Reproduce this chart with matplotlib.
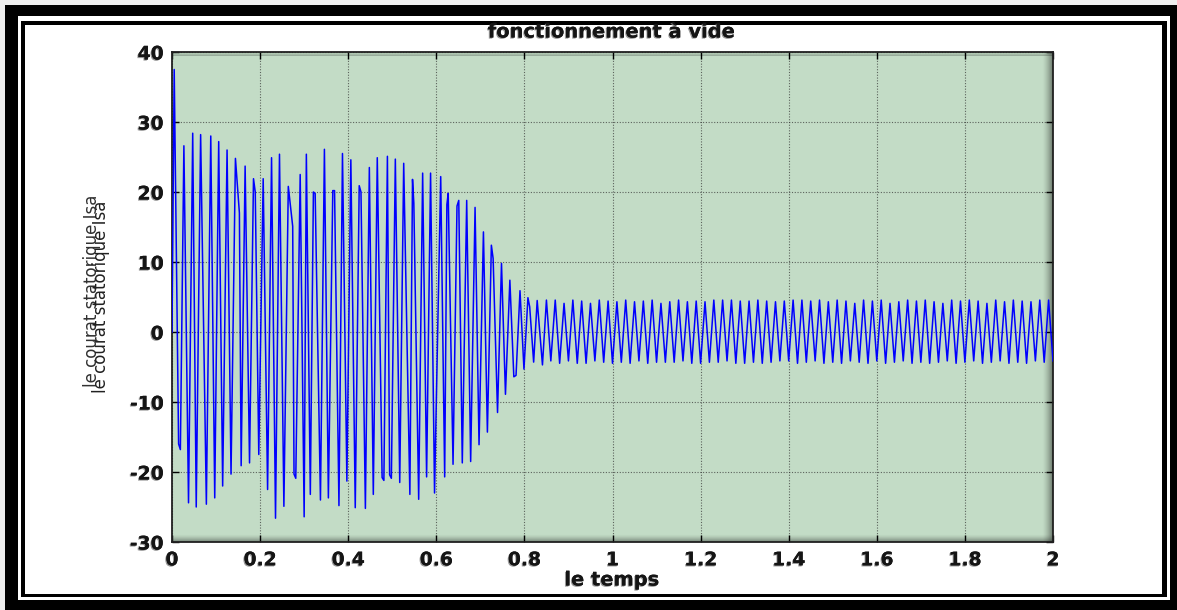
import matplotlib
matplotlib.use('Agg')
import matplotlib.pyplot as plt
import numpy as np
from matplotlib.patches import Rectangle
import matplotlib.patheffects as pe

# ---------------- data ----------------
t_transient = [0.0, 0.005, 0.015, 0.019, 0.027, 0.0375, 0.047, 0.055, 0.065, 0.078,
               0.088, 0.097, 0.106, 0.115, 0.125, 0.134, 0.144, 0.153, 0.157, 0.166,
               0.176, 0.185, 0.189, 0.197, 0.207, 0.217, 0.226, 0.235, 0.244, 0.254,
               0.264, 0.274, 0.277, 0.281, 0.291, 0.300, 0.305, 0.314, 0.321, 0.325,
               0.337, 0.346, 0.355, 0.365, 0.369, 0.379, 0.387, 0.397, 0.406, 0.416,
               0.425, 0.429, 0.439, 0.448, 0.457, 0.466, 0.477, 0.481, 0.489, 0.494,
               0.498, 0.507, 0.517, 0.526, 0.540, 0.546, 0.549, 0.560, 0.569, 0.578,
               0.587, 0.596, 0.610, 0.619, 0.624, 0.627, 0.638, 0.647, 0.651, 0.659,
               0.669, 0.678, 0.688, 0.697, 0.707, 0.716, 0.725, 0.729, 0.739, 0.748,
               0.757, 0.767, 0.776, 0.781, 0.790, 0.799, 0.808, 0.812, 0.821, 0.829,
               0.841]
i_transient = [0.0, 37.5, -16.0, -16.8, 26.6, -24.4, 28.4, -25.0, 28.2, -24.6,
               28.0, -23.7, 27.2, -22.0, 26.0, -20.3, 24.8, 17.0, -19.1, 23.7,
               -18.7, 21.9, 20.0, -17.5, 21.9, -22.5, 24.9, -26.6, 25.4, -24.9,
               20.8, 15.1, -20.3, -20.9, 22.5, -26.4, 25.4, -23.2, 20.0, 19.8,
               -24.0, 26.1, -23.7, 20.2, 20.2, -24.8, 25.5, -21.3, 24.6, -25.1,
               20.9, 20.0, -25.2, 23.5, -23.2, 24.9, -20.8, -21.2, 25.1, -20.4,
               -20.9, 24.7, -21.5, 24.1, -23.2, 21.8, 18.4, -23.9, 22.7, -20.7,
               22.7, -23.0, 22.2, -20.7, 18.2, 19.8, -18.9, 18.0, 18.8, -18.7,
               18.8, -18.5, 17.8, -16.1, 14.3, -14.3, 12.4, 10.5, -11.5, 9.8,
               -8.9, 7.4, -6.4, -6.2, 5.9, -5.3, 4.9, 3.6, -4.3, 4.5,
               -4.7]

t_steady = [0.85, 0.86, 0.87, 0.88, 0.89, 0.90, 0.91, 0.92, 0.93, 0.94,
            0.95, 0.96, 0.97, 0.98, 0.99, 1.00, 1.01, 1.02, 1.03, 1.04,
            1.05, 1.06, 1.07, 1.08, 1.09, 1.10, 1.11, 1.12, 1.13, 1.14,
            1.15, 1.16, 1.17, 1.18, 1.19, 1.20, 1.21, 1.22, 1.23, 1.24,
            1.25, 1.26, 1.27, 1.28, 1.29, 1.30, 1.31, 1.32, 1.33, 1.34,
            1.35, 1.36, 1.37, 1.38, 1.39, 1.40, 1.41, 1.42, 1.43, 1.44,
            1.45, 1.46, 1.47, 1.48, 1.49, 1.50, 1.51, 1.52, 1.53, 1.54,
            1.55, 1.56, 1.57, 1.58, 1.59, 1.60, 1.61, 1.62, 1.63, 1.64,
            1.65, 1.66, 1.67, 1.68, 1.69, 1.70, 1.71, 1.72, 1.73, 1.74,
            1.75, 1.76, 1.77, 1.78, 1.79, 1.80, 1.81, 1.82, 1.83, 1.84,
            1.85, 1.86, 1.87, 1.88, 1.89, 1.90, 1.91, 1.92, 1.93, 1.94,
            1.95, 1.96, 1.97, 1.98, 1.99, 2.00]
i_steady = [4.56, -4.13, 4.56, -4.47, 4.09, -4.13, 4.56, -4.47, 4.42, -4.47,
            4.09, -4.13, 4.56, -4.32, 4.42, -4.47, 4.32, -4.32, 4.56, -4.47,
            4.32, -4.13, 4.42, -4.47, 4.56, -4.32, 4.09, -4.32, 4.32, -4.32,
            4.56, -4.13, 4.32, -4.47, 4.42, -4.47, 4.32, -4.32, 4.56, -4.32,
            4.56, -4.13, 4.56, -4.47, 4.42, -4.47, 4.42, -4.32, 4.56, -4.47,
            4.42, -4.32, 4.32, -4.13, 4.42, -4.13, 4.56, -4.47, 4.56, -4.32,
            4.42, -4.13, 4.56, -4.47, 4.32, -4.32, 4.56, -4.47, 4.42, -4.13,
            4.09, -4.32, 4.56, -4.47, 4.42, -4.13, 4.56, -4.47, 4.09, -4.32,
            4.32, -4.13, 4.56, -4.47, 4.42, -4.32, 4.56, -4.47, 4.32, -4.32,
            4.09, -4.13, 4.56, -4.47, 4.42, -4.32, 4.56, -4.13, 4.42, -4.47,
            4.09, -4.32, 4.56, -4.13, 4.32, -4.47, 4.56, -4.32, 4.42, -4.47,
            4.32, -4.13, 4.56, -4.32, 4.56, -4.13]

x_ticks = [0, 0.2, 0.4, 0.6, 0.8, 1.0, 1.2, 1.4, 1.6, 1.8, 2.0]
x_tick_labels = ['0', '0.2', '0.4', '0.6', '0.8', '1', '1.2', '1.4', '1.6', '1.8', '2']
y_ticks = [-30, -20, -10, 0, 10, 20, 30, 40]
y_tick_labels = ['-30', '-20', '-10', '0', '10', '20', '30', '40']

title_text = 'fonctionnement à vide'
xlabel_text = 'le temps'
ylabel_text = 'le courat statorique Isa'

# ---------------- figure ----------------
W, H = 1177, 610
fig = plt.figure(figsize=(W / 100, H / 100), dpi=100, facecolor='#eeeeee')


def pbox(x0, y0, x1, y1):
    return (x0 / W, 1 - y1 / H), (x1 - x0) / W, (y1 - y0) / H


for (x0, y0, x1, y1, c) in [(5, 5, 1177, 610, 'black'),
                            (18, 16, 1170, 600, 'white'),
                            (21, 21, 1167, 597, 'black'),
                            (25, 25, 1162, 594, 'white')]:
    xy, w, h = pbox(x0, y0, x1, y1)
    fig.add_artist(Rectangle(xy, w, h, transform=fig.transFigure,
                             facecolor=c, edgecolor='none', zorder=-5))

ax = fig.add_axes([172 / W, 1 - 542 / H, (1053 - 172) / W, (542 - 52) / H])
ax.set_facecolor('#c3dcc6')

t_all = t_transient + t_steady
i_all = i_transient + i_steady
ax.plot(t_all, i_all, color='#0000ff', lw=1.1, zorder=3)

ax.set_xticks(x_ticks)
ax.set_xticklabels(x_tick_labels)
ax.set_yticks(y_ticks)
ax.set_yticklabels(y_tick_labels)
ax.grid(True, color='#303030', linestyle=(0, (1, 1.5)), linewidth=0.8, alpha=0.7)
ax.tick_params(direction='in', top=True, right=True, length=5, width=1,
               labelsize=13.5, pad=6)
for s in ax.spines.values():
    s.set_linewidth(1.3)
    s.set_color('#202020')

shadow = [pe.withSimplePatchShadow(offset=(-0.8, -0.8), shadow_rgbFace='#808080', alpha=0.8),
          pe.Normal()]
for lab in ax.get_xticklabels() + ax.get_yticklabels():
    lab.set_fontfamily('DejaVu Sans')
    lab.set_fontweight('bold')
    lab.set_path_effects(shadow)
    lab.set_color('#151515')

# bevel shading along the inner edges of the plot area
def ramp(n, amax, reverse=False):
    a = np.linspace(0, amax, n) ** 1.5 / amax ** 0.5
    if reverse:
        a = a[::-1]
    img = np.zeros((1, n, 4))
    img[0, :, 3] = a
    return img

r_img = ramp(40, 0.45)                 # horizontal ramp, darker to the right
ax.imshow(r_img, extent=[1.976, 2.0, -30, 40], aspect='auto', zorder=1,
          interpolation='bilinear')
b_img = np.transpose(ramp(40, 0.4), (1, 0, 2))   # vertical ramp, darker at bottom
ax.imshow(b_img, extent=[0, 2.0, -30, -28.9], aspect='auto', zorder=1,
          interpolation='bilinear')
t_img = np.transpose(ramp(40, 0.25, reverse=True), (1, 0, 2))[::-1]
ax.imshow(t_img, extent=[0, 2.0, 39.4, 40], aspect='auto', zorder=1,
          interpolation='bilinear')
ax.set_xlim(0, 2)
ax.set_ylim(-30, 40)

fig.text(612 / W, 1 - 32 / H, title_text, ha='center', va='center', fontsize=14,
         fontfamily='DejaVu Sans', fontweight='bold', color='#151515', path_effects=shadow)
fig.text(612 / W, 1 - 580 / H, xlabel_text, ha='center', va='center', fontsize=14,
         fontfamily='DejaVu Sans', fontweight='bold', color='#151515', path_effects=shadow)
fig.text(92 / W, 1 - 291 / H, ylabel_text, ha='center', va='center', fontsize=12,
         rotation=90, fontfamily='DejaVu Sans', color='#303030')
fig.text(101 / W, 1 - 297 / H, ylabel_text, ha='center', va='center', fontsize=12,
         rotation=90, fontfamily='DejaVu Sans', color='#202020')

fig.savefig('out.png', dpi=100, facecolor=fig.get_facecolor())
